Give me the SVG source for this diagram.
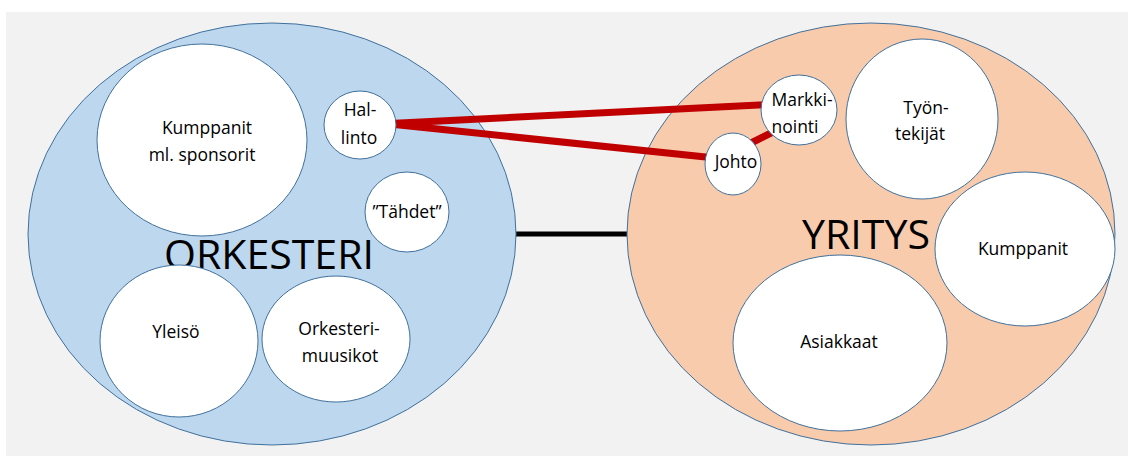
<svg xmlns="http://www.w3.org/2000/svg" width="1128" height="456" viewBox="0 0 1128 456">
  <style>
    .org { fill: #bdd7ee; stroke: #41719c; stroke-width: 1; }
    .firm { fill: #f8cbad; stroke: #41719c; stroke-width: 1; }
    .unit { fill: #ffffff; stroke: #41719c; stroke-width: 1; }
    .lbl { font-family: "Open Sans", "Noto Sans", sans-serif; font-size: 17.5px; fill: #000; text-anchor: middle; }
    .big { font-family: "Open Sans", "Noto Sans", sans-serif; font-size: 41px; fill: #000; text-anchor: middle; }
    .link { stroke: #c00000; stroke-width: 7; stroke-linecap: butt; fill: none; }
    .tie { stroke: #000; stroke-width: 5; fill: none; }
  </style>

  <rect x="0" y="0" width="1128" height="456" fill="#ffffff"/>
  <rect x="6" y="12" width="1122" height="444" fill="#f2f2f2"/>

  <!-- link between the two organisations -->
  <g id="connectors-main">
    <line class="tie" x1="514" y1="234" x2="630" y2="234"/>
  </g>

  <g id="orkesteri">
    <ellipse class="org" cx="272" cy="234" rx="244" ry="211"/>
    <text class="big" x="269" y="269" textLength="210" lengthAdjust="spacingAndGlyphs">ORKESTERI</text>
  </g>

  <g id="yritys">
    <ellipse class="firm" cx="871" cy="234" rx="244" ry="211"/>
    <text class="big" x="866" y="249" textLength="128" lengthAdjust="spacingAndGlyphs">YRITYS</text>
  </g>

  <!-- red management links -->
  <g id="connectors">
    <line class="link" x1="380" y1="124" x2="780" y2="104"/>
    <line class="link" x1="380" y1="123" x2="720" y2="158.5"/>
    <line class="link" x1="745" y1="146" x2="781" y2="128"/>
  </g>

  <g id="kumppanit-sponsorit">
    <ellipse class="unit" cx="202" cy="140" rx="105" ry="96"/>
    <text class="lbl" x="207" y="134">Kumppanit</text>
    <text class="lbl" x="202" y="161">ml. sponsorit</text>
  </g>

  <g id="hallinto">
    <ellipse class="unit" cx="360" cy="125" rx="36" ry="34"/>
    <text class="lbl" x="360" y="116">Hal-</text>
    <text class="lbl" x="359" y="144">linto</text>
  </g>

  <g id="tahdet">
    <ellipse class="unit" cx="407" cy="212" rx="42" ry="40"/>
    <text class="lbl" x="407" y="218">”Tähdet”</text>
  </g>

  <g id="yleiso">
    <ellipse class="unit" cx="179" cy="341" rx="79" ry="76"/>
    <text class="lbl" x="176" y="338">Yleisö</text>
  </g>

  <g id="muusikot">
    <ellipse class="unit" cx="336" cy="339" rx="74" ry="63"/>
    <text class="lbl" x="339" y="335">Orkesteri-</text>
    <text class="lbl" x="340" y="362">muusikot</text>
  </g>

  <g id="markkinointi">
    <ellipse class="unit" cx="799" cy="110" rx="38" ry="35"/>
    <text class="lbl" x="802" y="106">Markki-</text>
    <text class="lbl" x="795" y="133">nointi</text>
  </g>

  <g id="johto">
    <ellipse class="unit" cx="733" cy="164" rx="28" ry="31"/>
    <text class="lbl" x="736" y="168">Johto</text>
  </g>

  <g id="tyontekijat">
    <ellipse class="unit" cx="922" cy="119" rx="76" ry="80"/>
    <text class="lbl" x="926" y="114">Työn-</text>
    <text class="lbl" x="920" y="140">tekijät</text>
  </g>

  <g id="kumppanit">
    <ellipse class="unit" cx="1025" cy="249" rx="90" ry="77"/>
    <text class="lbl" x="1023" y="255">Kumppanit</text>
  </g>

  <g id="asiakkaat">
    <ellipse class="unit" cx="840" cy="343" rx="107" ry="88"/>
    <text class="lbl" x="839" y="348">Asiakkaat</text>
  </g>
</svg>
